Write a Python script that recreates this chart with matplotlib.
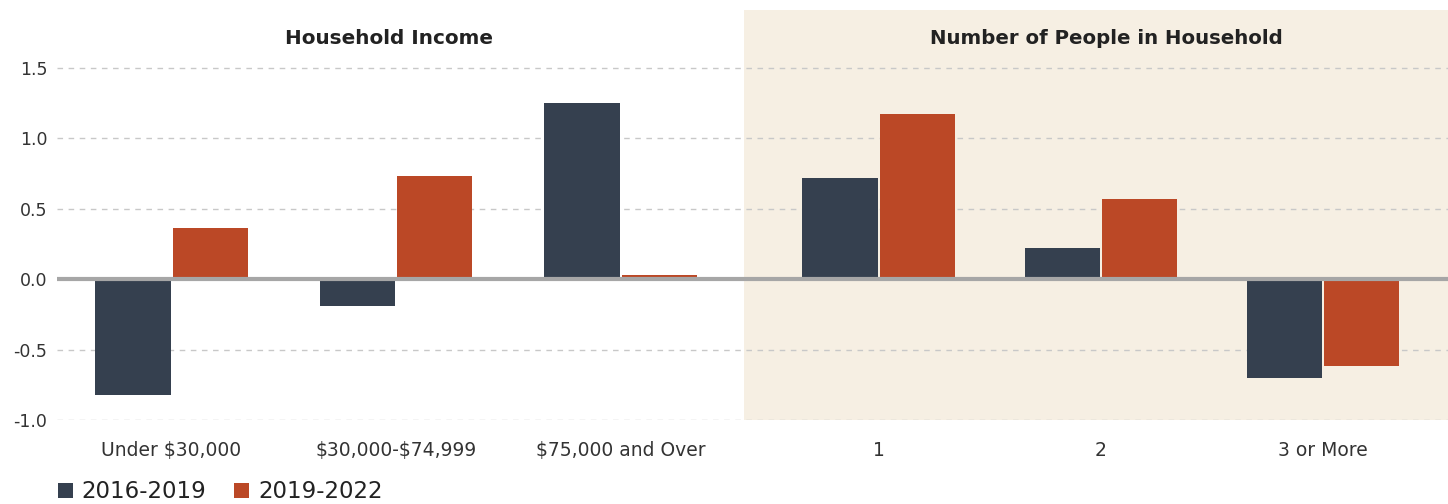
import numpy as np
import matplotlib
matplotlib.use("Agg")
import matplotlib.pyplot as plt

plt.rcParams['font.family'] = ['DejaVu Sans']
plt.rcParams['text.parse_math'] = False

income_labels = ["Under $30,000", "$30,000-$74,999", "$75,000 and Over"]
people_labels = ["1", "2", "3 or More"]
series_names = ["2016-2019", "2019-2022"]

# change (millions)
income_2016_2019 = [-0.82, -0.19, 1.25]
income_2019_2022 = [0.36, 0.73, 0.03]
people_2016_2019 = [0.72, 0.22, -0.70]
people_2019_2022 = [1.17, 0.57, -0.62]

dark = "#35404F"
orange = "#BB4826"
shade = "#F6EFE3"

fig = plt.figure(figsize=(14.48, 5.04), dpi=100)
ax = fig.add_axes([0.0394, 0.1667, 0.9606, 0.8135])

x_inc = np.arange(3)
x_ppl = 3.15 + np.arange(3) * 0.99
w = 0.335
off = 0.172

ax.axvspan(2.55, 5.7, color=shade, zorder=0, lw=0)

ax.bar(x_inc - off, income_2016_2019, w, color=dark, zorder=3, label=series_names[0])
ax.bar(x_inc + off, income_2019_2022, w, color=orange, zorder=3, label=series_names[1])
ax.bar(x_ppl - off, people_2016_2019, w, color=dark, zorder=3)
ax.bar(x_ppl + off, people_2019_2022, w, color=orange, zorder=3)

ax.set_xlim(-0.51, 5.686)
ax.set_ylim(-1.0, 1.91)
ax.set_yticks([-1.0, -0.5, 0.0, 0.5, 1.0, 1.5])
ax.set_yticklabels(["-1.0", "-0.5", "0.0", "0.5", "1.0", "1.5"])
ax.grid(axis='y', color="#C8C8C8", linestyle=(0, (4, 4)), lw=1, zorder=1)
ax.axhline(0, color="#A6A6A6", lw=3, zorder=4)

ax.set_xticks(list(x_inc) + list(x_ppl))
ax.set_xticklabels(income_labels + people_labels)
ax.tick_params(axis='x', length=0, pad=15, labelsize=13.5, labelcolor="#333333")
ax.tick_params(axis='y', length=0, pad=7, labelsize=12.5, labelcolor="#333333")
for s in ax.spines.values():
    s.set_visible(False)

# group headers
ax.text(x_inc.mean() - 0.03, 1.71, "Household Income", ha='center', va='center',
        fontsize=14.4, fontweight='bold', color="#222222")
ax.text(x_ppl.mean() + 0.025, 1.71, "Number of People in Household", ha='center', va='center',
        fontsize=14.2, fontweight='bold', color="#222222")

fig.legend(loc='center left', bbox_to_anchor=(0.0318, 0.024), ncol=2, frameon=False,
           handlelength=0.66, handleheight=0.66, handletextpad=0.4, columnspacing=1.2,
           borderpad=0, fontsize=16.5, labelcolor="#222222")

fig.savefig("out.png", dpi=100)
